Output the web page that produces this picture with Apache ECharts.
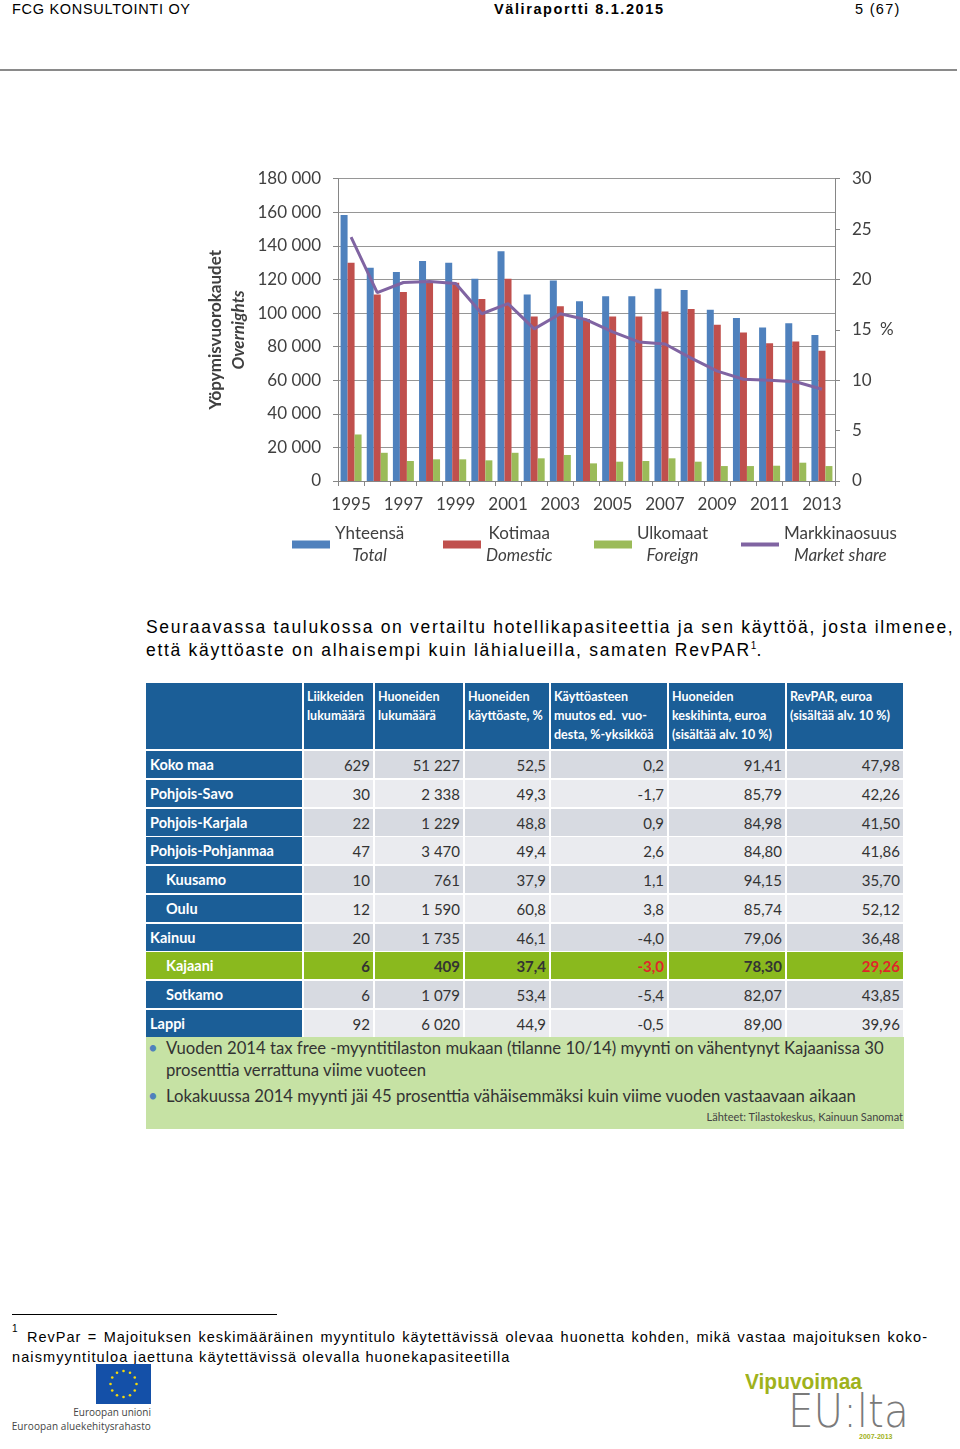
<!DOCTYPE html>
<html><head><meta charset="utf-8">
<script src="https://cdn.jsdelivr.net/npm/echarts@6/dist/echarts.min.js"></script>
<style>
html,body{margin:0;padding:0;background:#fff;}
body{width:960px;height:1449px;position:relative;overflow:hidden;font-family:"Liberation Sans",Arial,sans-serif;color:#000;}
.abs{position:absolute;white-space:nowrap;}
#chart{position:absolute;left:0;top:140px;width:960px;height:450px;}
.cell{position:absolute;box-sizing:border-box;font-family:Lato,"Open Sans",sans-serif;overflow:hidden;}
.hd{background:#1b5e97;color:#fff;font-weight:bold;font-size:12.5px;line-height:19px;padding:4px 0 0 3px;white-space:pre;}
.lab{background:#1b5e97;color:#fff;font-weight:bold;font-size:14.5px;line-height:28px;padding-left:4px;white-space:nowrap;}
.num{color:#333;font-size:15px;line-height:28px;text-align:right;padding-right:3px;}
</style></head>
<body>
<div class="abs" style="left:12px;top:1px;font-size:14.5px;letter-spacing:0.7px;">FCG KONSULTOINTI OY</div>
<div class="abs" style="left:494px;top:1px;font-size:14.5px;font-weight:bold;letter-spacing:1.6px;">Väliraportti 8.1.2015</div>
<div class="abs" style="left:855px;top:1px;font-size:14.5px;letter-spacing:1.3px;">5 (67)</div>
<div class="abs" style="left:0;top:69px;width:957px;height:2px;background:#8a8a8a;"></div>

<div id="chart"></div>

<div class="abs" style="left:146px;top:617px;font-size:17.5px;letter-spacing:1.7px;">Seuraavassa taulukossa on vertailtu hotellikapasiteettia ja sen käyttöä, josta ilmenee,</div>
<div class="abs" style="left:146px;top:640px;font-size:17.5px;letter-spacing:1.7px;">että käyttöaste on alhaisempi kuin lähialueilla, samaten RevPAR<sup style="font-size:10px;letter-spacing:0">1</sup>.</div>

<div id="table"></div>

<div class="abs" style="left:146px;top:1037px;width:758px;height:92px;background:#c6e2a4;"></div>
<div class="abs" style="left:148px;top:1037px;font-family:Lato,sans-serif;font-size:16.7px;line-height:22px;color:#333;">
<div style="position:absolute;left:0;top:0;color:#4f81bd;">•</div>
<div style="position:absolute;left:18px;top:0;">Vuoden 2014 tax free -myyntitilaston mukaan (tilanne 10/14) myynti on vähentynyt Kajaanissa 30</div>
<div style="position:absolute;left:18px;top:22px;">prosenttia verrattuna viime vuoteen</div>
<div style="position:absolute;left:0;top:48px;color:#4f81bd;">•</div>
<div style="position:absolute;left:18px;top:48px;">Lokakuussa 2014 myynti jäi 45 prosenttia vähäisemmäksi kuin viime vuoden vastaavaan aikaan</div>
</div>
<div class="abs" style="right:57px;top:1110px;font-family:Lato,sans-serif;font-size:11px;color:#444;">Lähteet: Tilastokeskus, Kainuun Sanomat</div>

<div class="abs" style="left:12px;top:1314px;width:265px;height:1px;background:#000;"></div>
<div class="abs" style="left:12px;top:1323px;font-size:10px;">1</div>
<div class="abs" style="left:27px;top:1329px;width:901px;font-size:14.5px;text-align:justify;text-align-last:justify;letter-spacing:1px;">RevPar = Majoituksen keskimääräinen myyntitulo käytettävissä olevaa huonetta kohden, mikä vastaa majoituksen koko-</div>
<div class="abs" style="left:12px;top:1349px;font-size:14.5px;letter-spacing:1.1px;">naismyyntituloa jaettuna käytettävissä olevalla huonekapasiteetilla</div>

<svg class="abs" style="left:96px;top:1364px;" width="55" height="40" viewBox="0 0 55 40">
<rect width="55" height="40" fill="#1450a8"/>
<g fill="#f5d90a" id="stars"></g>
</svg>
<div class="abs" style="left:0;width:151px;top:1405px;text-align:right;font-family:'Open Sans',sans-serif;font-size:10px;color:#444;">Euroopan unioni</div>
<div class="abs" style="left:0;width:151px;top:1419px;text-align:right;font-family:'Open Sans',sans-serif;font-size:10px;color:#444;letter-spacing:0.1px;">Euroopan aluekehitysrahasto</div>

<div class="abs" style="left:745px;top:1369px;font-family:'Liberation Sans Narrow','Liberation Sans',sans-serif;font-weight:bold;font-size:22px;color:#9fb21c;transform:scaleX(0.95);transform-origin:left;">Vipuvoimaa</div>
<div class="abs" style="left:788px;top:1388px;font-family:'DejaVu Sans','Liberation Sans',sans-serif;font-weight:200;font-size:46px;line-height:46px;color:#7a7a7a;transform:scaleX(0.88);transform-origin:left;">EU:lta</div>
<div class="abs" style="left:859px;top:1433px;font-size:7px;font-weight:bold;color:#9fb21c;">2007-2013</div>

<script>
// ---- chart data ----
var years = ['1995','1996','1997','1998','1999','2000','2001','2002','2003','2004','2005','2006','2007','2008','2009','2010','2011','2012','2013'];
var totalNights = [158400,127000,124400,131000,130000,120400,136800,111000,119400,107000,110000,110000,114400,113800,102000,97000,91400,94000,87000];
var domesticNights = [130000,111000,112600,118000,118000,108400,120400,98000,104000,96400,98000,98000,101000,102400,93000,88400,82000,83000,77600];
var foreignNights = [27700,16800,11900,12900,12900,12300,16800,13500,15500,10500,11500,11900,13500,11500,8900,8900,9100,10900,8900];
var marketShare = [24.2,18.7,19.7,19.8,19.6,16.6,17.6,15.1,16.6,16.0,14.8,13.8,13.6,12.2,10.9,10.1,10.0,9.85,9.1];
var seriesNames = ['Yhteensä\nTotal','Kotimaa\nDomestic','Ulkomaat\nForeign','Markkinaosuus\nMarket share'];

// ---- table data ----
var tableHeaders = ['Liikkeiden\nlukumäärä','Huoneiden\nlukumäärä','Huoneiden\nkäyttöaste, %','Käyttöasteen\nmuutos ed.  vuo-\ndesta, %-yksikköä','Huoneiden\nkeskihinta, euroa\n(sisältää alv. 10 %)','RevPAR, euroa\n(sisältää alv. 10 %)'];
var regions = ['Koko maa','Pohjois-Savo','Pohjois-Karjala','Pohjois-Pohjanmaa','Kuusamo','Oulu','Kainuu','Kajaani','Sotkamo','Lappi'];
var regionIndent = [0,0,0,0,1,1,0,1,1,0];
var businesses = ['629','30','22','47','10','12','20','6','6','92'];
var rooms = ['51 227','2 338','1 229','3 470','761','1 590','1 735','409','1 079','6 020'];
var occupancy = ['52,5','49,3','48,8','49,4','37,9','60,8','46,1','37,4','53,4','44,9'];
var occChange = ['0,2','-1,7','0,9','2,6','1,1','3,8','-4,0','-3,0','-5,4','-0,5'];
var avgPrice = ['91,41','85,79','84,98','84,80','94,15','85,74','79,06','78,30','82,07','89,00'];
var revpar = ['47,98','42,26','41,50','41,86','35,70','52,12','36,48','29,26','43,85','39,96'];
var highlightRegion = 'Kajaani';

// ---- EU stars ----
(function(){
  var g = document.getElementById('stars'), s='';
  for (var i=0;i<12;i++){var a=i*Math.PI/6;s+='<circle cx="'+(27.5+13*Math.cos(a)).toFixed(2)+'" cy="'+(20+13*Math.sin(a)).toFixed(2)+'" r="1.3"/>';}
  g.innerHTML = s;
})();

// ---- table ----
(function(){
  var colX = [146,302,373,463,549,667,785,903];
  var t = document.getElementById('table'), h='';
  function box(cls,x0,x1,y,hgt,style,txt){
    return '<div class="cell '+cls+'" style="left:'+x0+'px;top:'+y+'px;width:'+(x1-x0)+'px;height:'+hgt+'px;'+style+'">'+txt+'</div>';
  }
  h += box('hd',colX[0],colX[1],683,66,'','');
  for (var c=0;c<6;c++) h += box('hd',colX[c+1]+2,colX[c+2],683,66,'',tableHeaders[c]);
  var cols = [businesses,rooms,occupancy,occChange,avgPrice,revpar];
  for (var r=0;r<regions.length;r++){
    var y = Math.round(751 + r*28.75), hh = 27;
    var hl = regions[r]===highlightRegion;
    var bg = hl ? '#8ab91e' : (r%2===0 ? '#d7dae1' : '#eaebef');
    h += box('lab',colX[0],colX[1],y,hh,(hl?'background:#8ab91e;':'')+'padding-left:'+(regionIndent[r]?20:4)+'px;',regions[r]);
    for (var c=0;c<6;c++){
      var st = 'background:'+bg+';';
      if (hl) st += 'font-weight:bold;color:'+((c===3||c===5)?'#e0262a':'#333')+';';
      h += box('num',colX[c+1]+2,colX[c+2],y,hh,st,cols[c][r]);
    }
  }
  t.innerHTML = h;
})();

// ---- chart ----
var FONT = 'Lato, "Open Sans", sans-serif';
var chart = echarts.init(document.getElementById('chart'));
function legendAt(name, left, icon, ih){
  return {data:[{name:name, icon:icon}], left:left, top:385, padding:0, itemWidth:38, itemHeight:ih, itemGap:0,
    formatter:function(n){var p=n.split('\n');return '{a|'+p[0]+'}\n{b|'+p[1]+'}';},
    textStyle:{color:'#404040',fontFamily:FONT,fontSize:17,rich:{a:{align:'center',fontSize:17,lineHeight:22,fontFamily:FONT,color:'#404040'},b:{align:'center',fontSize:17,lineHeight:22,fontStyle:'italic',fontFamily:FONT,color:'#404040'}}}};
}
chart.setOption({
  animation:false,
  textStyle:{fontFamily:FONT},
  grid:{left:338, top:38.7, width:497, height:302.3},
  legend:[legendAt(seriesNames[0],292,'rect',8),legendAt(seriesNames[1],443,'rect',8),legendAt(seriesNames[2],594,'rect',8),legendAt(seriesNames[3],741,'rect',4)],
  xAxis:{type:'category', data:years, boundaryGap:true,
    axisLine:{lineStyle:{color:'#868686',width:1}},
    axisTick:{show:true, interval:0, length:5, alignWithLabel:false, lineStyle:{color:'#868686'}},
    axisLabel:{interval:1, margin:15, fontSize:17, color:'#404040', fontFamily:FONT}},
  yAxis:[
    {type:'value', min:0, max:180000, interval:20000,
      name:'{a|Yöpymisvuorokaudet}\n{b|Overnights}', nameLocation:'middle', nameRotate:90, nameGap:88,
      nameTextStyle:{rich:{a:{fontWeight:'bold',fontSize:17,lineHeight:23,align:'center',color:'#404040',fontFamily:FONT},b:{fontWeight:'bold',fontStyle:'italic',fontSize:17,lineHeight:23,align:'center',color:'#404040',fontFamily:FONT}}},
      axisLine:{show:true, lineStyle:{color:'#868686'}},
      axisTick:{show:true, length:5, lineStyle:{color:'#868686'}},
      splitLine:{show:true, lineStyle:{color:'#969696', width:1}},
      axisLabel:{margin:17, fontSize:17, color:'#404040', fontFamily:FONT,
        formatter:function(v){return String(v).replace(/\B(?=(\d{3})+(?!\d))/g,' ');}}},
    {type:'value', position:'right', min:0, max:30, interval:5,
      name:'%', nameLocation:'middle', nameRotate:0, nameGap:45,
      nameTextStyle:{fontSize:17, color:'#404040', fontFamily:FONT},
      axisLine:{show:true, lineStyle:{color:'#868686'}},
      axisTick:{show:true, length:5, lineStyle:{color:'#868686'}},
      splitLine:{show:false},
      axisLabel:{margin:17, fontSize:17, color:'#404040', fontFamily:FONT}}
  ],
  series:[
    {name:seriesNames[0], type:'bar', data:totalNights, barWidth:7, barGap:'0%', itemStyle:{color:'#4f81bd'}},
    {name:seriesNames[1], type:'bar', data:domesticNights, barWidth:7, barGap:'0%', itemStyle:{color:'#c0504d'}},
    {name:seriesNames[2], type:'bar', data:foreignNights, barWidth:7, barGap:'0%', itemStyle:{color:'#9bbb59'}},
    {name:seriesNames[3], type:'line', yAxisIndex:1, data:marketShare, symbol:'none', lineStyle:{color:'#8064a2', width:3}, itemStyle:{color:'#8064a2'}}
  ]
});
</script>
</body></html>
